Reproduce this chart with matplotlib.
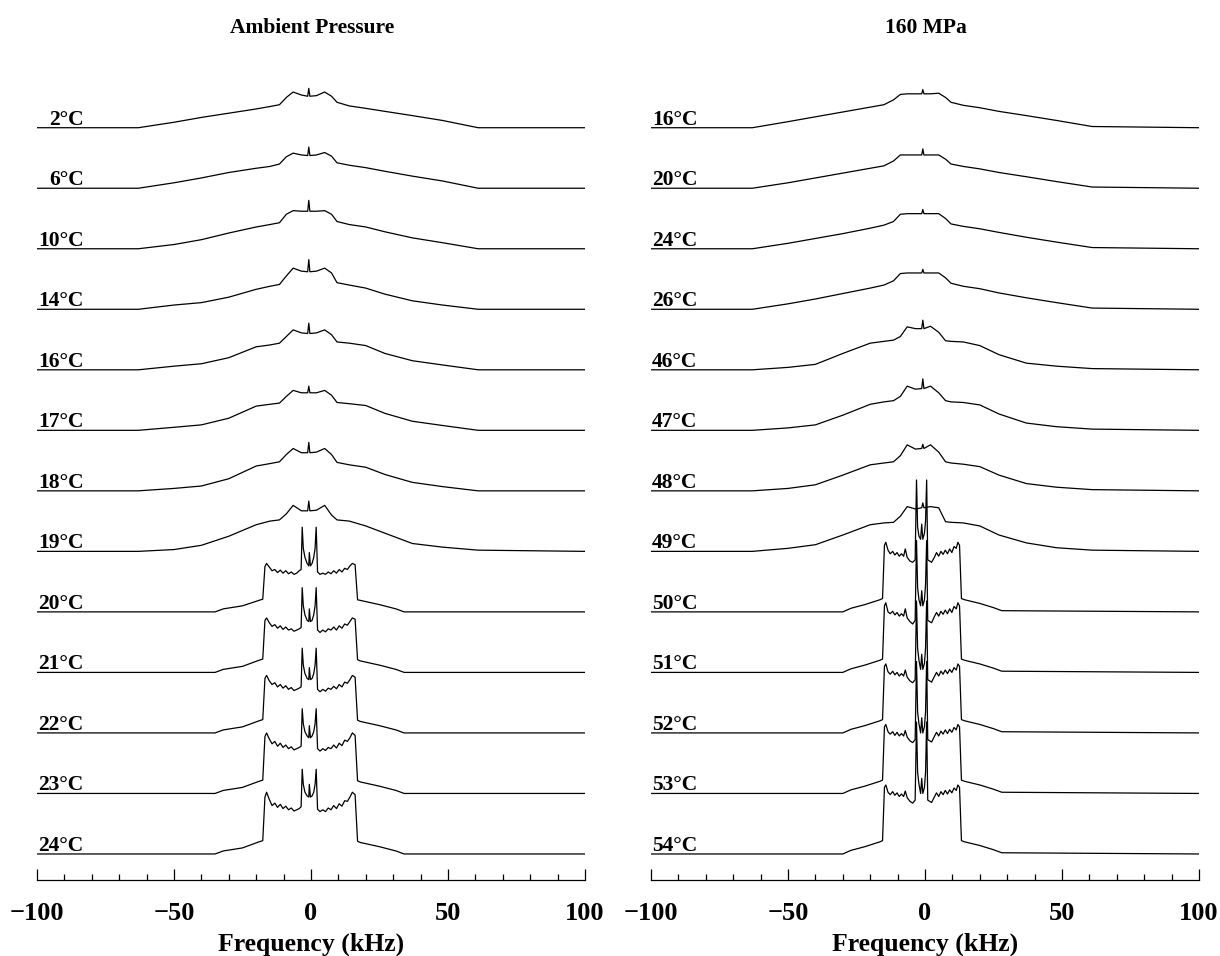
import matplotlib
matplotlib.use("Agg")
import matplotlib.pyplot as plt
from matplotlib.ticker import MultipleLocator

plt.rcParams['font.family'] = ['Liberation Serif', 'DejaVu Serif']
plt.rcParams['font.weight'] = 'bold'

# ---- data (heights in units of the trace spacing) ----
left_title = "Ambient Pressure"
right_title = "160 MPa"

left_temps = ["2°C", "6°C", "10°C", "14°C", "16°C", "17°C", "18°C", "19°C",
              "20°C", "21°C", "22°C", "23°C", "24°C"]
right_temps = ["16°C", "20°C", "24°C", "26°C", "46°C", "47°C", "48°C", "49°C",
               "50°C", "51°C", "52°C", "53°C", "54°C"]

# fluid-phase spectra: shared frequency points (kHz)
fluid_khz = [-100, -63, -50, -40, -30, -20, -15, -11.5, -9, -6.5, -3.5, -1.2, -0.8, -0.4,
             2, 5, 7.5, 9.5, 14, 20, 27, 37, 48, 61, 100]

left_fluid = [
    [0, 0, 0.09, 0.17, 0.24, 0.31, 0.35, 0.38, 0.50, 0.59, 0.54, 0.52, 0.65, 0.52,
     0.53, 0.59, 0.52, 0.42, 0.36, 0.32, 0.27, 0.20, 0.12, 0, 0],
    [0, 0, 0.09, 0.17, 0.26, 0.33, 0.36, 0.40, 0.52, 0.58, 0.55, 0.54, 0.68, 0.54,
     0.55, 0.59, 0.53, 0.42, 0.38, 0.34, 0.28, 0.20, 0.12, 0, 0],
    [0, 0, 0.07, 0.15, 0.26, 0.36, 0.40, 0.43, 0.57, 0.63, 0.62, 0.62, 0.80, 0.62,
     0.62, 0.63, 0.57, 0.45, 0.40, 0.36, 0.28, 0.18, 0.10, 0, 0],
    [0, 0, 0.07, 0.11, 0.20, 0.33, 0.38, 0.41, 0.55, 0.68, 0.63, 0.62, 0.82, 0.62,
     0.63, 0.68, 0.60, 0.44, 0.40, 0.35, 0.25, 0.14, 0.07, 0, 0],
    [0, 0, 0.06, 0.10, 0.20, 0.38, 0.41, 0.44, 0.55, 0.66, 0.61, 0.60, 0.77, 0.60,
     0.61, 0.66, 0.58, 0.46, 0.44, 0.40, 0.27, 0.15, 0.08, 0, 0],
    [0, 0, 0.05, 0.09, 0.20, 0.40, 0.43, 0.45, 0.56, 0.66, 0.62, 0.62, 0.73, 0.62,
     0.62, 0.66, 0.58, 0.46, 0.44, 0.41, 0.28, 0.15, 0.08, 0, 0],
    [0, 0, 0.04, 0.08, 0.20, 0.41, 0.45, 0.48, 0.60, 0.70, 0.63, 0.63, 0.80, 0.63,
     0.64, 0.70, 0.60, 0.47, 0.43, 0.39, 0.27, 0.14, 0.07, 0, 0],
    [0, 0, 0.03, 0.10, 0.25, 0.44, 0.50, 0.52, 0.62, 0.76, 0.67, 0.67, 0.83, 0.67,
     0.68, 0.76, 0.60, 0.52, 0.50, 0.42, 0.30, 0.13, 0.07, 0.02, 0],
]

right_fluid = [
    [0, 0, 0.10, 0.18, 0.26, 0.34, 0.38, 0.46, 0.55, 0.56, 0.56, 0.56, 0.63, 0.56,
     0.56, 0.57, 0.50, 0.42, 0.37, 0.33, 0.27, 0.20, 0.12, 0.02, 0],
    [0, 0, 0.09, 0.17, 0.25, 0.33, 0.37, 0.45, 0.55, 0.55, 0.55, 0.55, 0.65, 0.55,
     0.55, 0.55, 0.48, 0.40, 0.36, 0.32, 0.26, 0.19, 0.11, 0.02, 0],
    [0, 0, 0.09, 0.17, 0.25, 0.34, 0.39, 0.45, 0.57, 0.58, 0.58, 0.58, 0.65, 0.58,
     0.58, 0.58, 0.50, 0.41, 0.37, 0.33, 0.27, 0.19, 0.11, 0.02, 0],
    [0, 0, 0.09, 0.17, 0.26, 0.35, 0.40, 0.47, 0.59, 0.60, 0.60, 0.60, 0.66, 0.60,
     0.60, 0.60, 0.52, 0.43, 0.38, 0.34, 0.27, 0.19, 0.11, 0.02, 0],
    [0, 0, 0.04, 0.09, 0.27, 0.44, 0.47, 0.49, 0.55, 0.71, 0.68, 0.68, 0.82, 0.68,
     0.72, 0.62, 0.48, 0.47, 0.46, 0.40, 0.25, 0.11, 0.06, 0.02, 0],
    [0, 0, 0.04, 0.09, 0.25, 0.43, 0.47, 0.49, 0.56, 0.73, 0.68, 0.69, 0.85, 0.69,
     0.73, 0.62, 0.49, 0.47, 0.46, 0.42, 0.27, 0.12, 0.06, 0.02, 0],
    [0, 0, 0.04, 0.10, 0.26, 0.43, 0.46, 0.48, 0.58, 0.76, 0.69, 0.70, 0.77, 0.70,
     0.76, 0.64, 0.48, 0.46, 0.44, 0.40, 0.26, 0.12, 0.06, 0.02, 0],
    [0, 0, 0.05, 0.11, 0.27, 0.44, 0.47, 0.48, 0.58, 0.74, 0.70, 0.72, 0.80, 0.72,
     0.74, 0.72, 0.49, 0.48, 0.47, 0.42, 0.27, 0.14, 0.06, 0.02, 0],
]

# gel-phase spectra (ambient pressure, 20-24 C)
left_gel_khz = [-100, -35, -32, -25, -19, -17.6, -16.8, -16.2, -15.2, -14.2, -13.2, -12.2,
                -11.2, -10.2, -9.2, -8.2, -7.2, -6.2, -5.2, -4.3, -3.6, -3.2, -2.8, -2.2,
                -1.4, -0.8, -0.6, -0.2, 0.4, 1.0, 1.5, 1.9, 2.4, 3.3, 4.3, 5.3, 6.3, 7.3,
                8.3, 9.3, 10.3, 11.3, 12.3, 13.3, 14.2, 15.1, 16.1, 17.0, 18, 25, 31, 34, 100]

left_gel = [
    [0, 0, 0.05, 0.10, 0.19, 0.21, 0.75, 0.80, 0.74, 0.68, 0.70, 0.65, 0.69, 0.64, 0.68,
     0.63, 0.66, 0.62, 0.64, 0.68, 0.70, 1.40, 1.05, 0.90, 0.80, 0.76, 0.98, 0.76, 0.80,
     0.90, 1.05, 1.40, 0.66, 0.62, 0.64, 0.62, 0.66, 0.63, 0.68, 0.64, 0.70, 0.66, 0.72,
     0.70, 0.76, 0.80, 0.78, 0.20, 0.19, 0.12, 0.05, 0, 0],
    [0, 0, 0.05, 0.10, 0.20, 0.22, 0.86, 0.90, 0.82, 0.76, 0.79, 0.73, 0.77, 0.71, 0.75,
     0.70, 0.72, 0.68, 0.70, 0.72, 0.74, 1.40, 1.10, 0.95, 0.86, 0.84, 1.05, 0.84, 0.86,
     0.95, 1.10, 1.40, 0.70, 0.66, 0.70, 0.67, 0.72, 0.70, 0.75, 0.70, 0.77, 0.73, 0.80,
     0.78, 0.84, 0.90, 0.88, 0.21, 0.19, 0.12, 0.05, 0, 0],
    [0, 0, 0.05, 0.10, 0.20, 0.22, 0.90, 0.95, 0.86, 0.80, 0.83, 0.76, 0.80, 0.74, 0.78,
     0.72, 0.75, 0.70, 0.72, 0.74, 0.76, 1.40, 1.12, 0.98, 0.90, 0.88, 1.08, 0.88, 0.90,
     0.98, 1.12, 1.40, 0.72, 0.68, 0.72, 0.69, 0.74, 0.72, 0.77, 0.73, 0.80, 0.76, 0.84,
     0.82, 0.88, 0.95, 0.92, 0.21, 0.19, 0.12, 0.05, 0, 0],
    [0, 0, 0.05, 0.10, 0.20, 0.22, 0.94, 1.00, 0.90, 0.82, 0.86, 0.78, 0.83, 0.76, 0.80,
     0.74, 0.77, 0.72, 0.74, 0.76, 0.78, 1.40, 1.15, 1.02, 0.95, 0.92, 1.12, 0.92, 0.95,
     1.02, 1.15, 1.40, 0.74, 0.70, 0.74, 0.71, 0.76, 0.74, 0.80, 0.75, 0.83, 0.79, 0.88,
     0.86, 0.92, 1.00, 0.96, 0.21, 0.19, 0.12, 0.05, 0, 0],
    [0, 0, 0.05, 0.10, 0.20, 0.22, 0.94, 1.02, 0.90, 0.80, 0.84, 0.77, 0.82, 0.75, 0.79,
     0.73, 0.76, 0.71, 0.73, 0.75, 0.78, 1.40, 1.15, 1.02, 0.96, 0.94, 1.15, 0.94, 0.96,
     1.02, 1.15, 1.40, 0.74, 0.70, 0.73, 0.70, 0.76, 0.73, 0.80, 0.75, 0.83, 0.79, 0.88,
     0.87, 0.94, 1.02, 0.98, 0.21, 0.19, 0.12, 0.05, 0, 0],
]

# gel-phase spectra (160 MPa, 50-54 C)
right_gel_khz = [-100, -30, -27, -22, -16.5, -15.5, -14.8, -14.3, -13.5, -12.7, -11.8, -11,
                 -10.2, -9.4, -8.6, -7.8, -7.2, -6.5, -5.5, -4.5, -3.6, -3.1, -2.7, -2.2,
                 -1.6, -1.2, -0.8, -0.2, 0.2, 0.6, 1.0, 2.4, 3.4, 4.2, 5.0, 5.8, 6.6, 7.4,
                 8.2, 9.0, 9.8, 10.6, 11.4, 12.0, 12.6, 13.3, 14.5, 20, 25, 28, 100]

right_gel = [
    [0, 0, 0.06, 0.12, 0.20, 0.22, 1.10, 1.15, 1.02, 0.96, 1.00, 0.94, 0.98, 0.92, 0.96,
     0.92, 1.04, 0.90, 0.84, 0.82, 0.86, 2.18, 1.40, 1.25, 1.20, 1.45, 1.20, 1.30, 1.50,
     2.18, 0.86, 0.82, 0.90, 0.98, 0.92, 1.00, 0.95, 1.02, 0.96, 1.04, 0.98, 1.08, 1.05,
     1.15, 1.10, 0.22, 0.20, 0.14, 0.07, 0.02, 0],
    [0, 0, 0.06, 0.12, 0.20, 0.22, 1.10, 1.15, 1.00, 0.97, 1.01, 0.95, 0.99, 0.93, 0.97,
     0.93, 1.05, 0.90, 0.84, 0.80, 0.86, 2.18, 1.40, 1.20, 1.10, 1.35, 1.10, 1.20, 1.45,
     2.18, 0.86, 0.82, 0.92, 0.99, 0.93, 1.01, 0.96, 1.03, 0.97, 1.05, 0.99, 1.09, 1.05,
     1.15, 1.10, 0.22, 0.20, 0.14, 0.07, 0.02, 0],
    [0, 0, 0.06, 0.12, 0.20, 0.22, 1.10, 1.14, 1.01, 0.97, 1.02, 0.96, 1.00, 0.94, 0.98,
     0.94, 1.04, 0.92, 0.86, 0.83, 0.88, 2.18, 1.40, 1.20, 1.05, 1.30, 1.05, 1.15, 1.40,
     2.18, 0.88, 0.84, 0.93, 1.00, 0.94, 1.02, 0.97, 1.04, 0.98, 1.05, 1.00, 1.08, 1.04,
     1.14, 1.10, 0.22, 0.20, 0.14, 0.07, 0.02, 0],
    [0, 0, 0.06, 0.12, 0.20, 0.22, 1.10, 1.14, 1.02, 0.98, 1.02, 0.96, 1.01, 0.95, 0.99,
     0.95, 1.04, 0.93, 0.87, 0.84, 0.89, 2.18, 1.35, 1.15, 1.00, 1.25, 1.00, 1.10, 1.35,
     2.18, 0.89, 0.85, 0.94, 1.01, 0.95, 1.03, 0.98, 1.05, 0.99, 1.06, 1.01, 1.09, 1.05,
     1.14, 1.10, 0.22, 0.20, 0.14, 0.07, 0.02, 0],
    [0, 0, 0.06, 0.12, 0.20, 0.22, 1.10, 1.14, 1.02, 0.98, 1.03, 0.97, 1.01, 0.95, 0.99,
     0.95, 1.04, 0.93, 0.87, 0.84, 0.89, 2.18, 1.35, 1.15, 1.00, 1.25, 1.00, 1.10, 1.35,
     2.18, 0.89, 0.85, 0.94, 1.01, 0.95, 1.03, 0.98, 1.05, 0.99, 1.06, 1.01, 1.09, 1.05,
     1.14, 1.10, 0.22, 0.20, 0.14, 0.07, 0.02, 0],
]

fig = plt.figure(figsize=(12.2, 9.56), dpi=100)
ax_l = fig.add_axes([0.0303, 0.0795, 0.4492, 0.8787])
ax_r = fig.add_axes([0.5336, 0.0795, 0.4492, 0.8787])


def draw_panel(ax, temps, fluid, gel_khz, gel):
    n = len(temps)
    traces = [(fluid_khz, h) for h in fluid] + [(gel_khz, h) for h in gel]
    for i, (xs, hs) in enumerate(traces):
        base = n - 1 - i
        ax.plot(xs, [base + h for h in hs], color='black', lw=0.9)
        ax.text(-83, base + 0.05, temps[i], ha='right', va='baseline',
                fontsize=15.5, fontweight='bold')
    ax.set_xlim(-100, 100)
    ax.set_ylim(-0.43, 13.45)
    for s in ['left', 'top', 'right']:
        ax.spines[s].set_visible(False)
    ax.spines['bottom'].set_linewidth(0.9)
    ax.set_yticks([])
    ax.set_xticks([-100, -50, 0, 50, 100])
    ax.xaxis.set_minor_locator(MultipleLocator(10))
    ax.tick_params(axis='x', which='major', direction='in', length=8, width=0.9,
                   pad=16, labelsize=19)
    ax.tick_params(axis='x', which='minor', direction='in', length=4, width=0.9)
    for lab in ax.get_xticklabels():
        lab.set_fontweight('bold')
    ax.set_xlabel("Frequency (kHz)", fontsize=18.5, fontweight='bold', labelpad=5)


draw_panel(ax_l, left_temps, left_fluid, left_gel_khz, left_gel)
draw_panel(ax_r, right_temps, right_fluid, right_gel_khz, right_gel)

fig.text(312 / 1220, 1 - 28 / 956, left_title, ha='center', va='center',
         fontsize=15.5, fontweight='bold')
fig.text(926 / 1220, 1 - 28 / 956, right_title, ha='center', va='center',
         fontsize=15.5, fontweight='bold')

fig.savefig("out.png", dpi=100)
